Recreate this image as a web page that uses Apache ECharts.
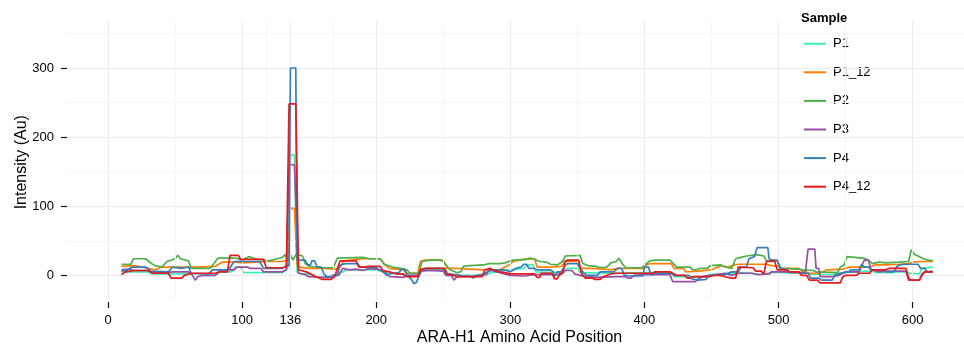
<!DOCTYPE html>
<html>
<head>
<meta charset="utf-8">
<script src="https://cdn.jsdelivr.net/npm/echarts@6/dist/echarts.min.js"></script>
<style>html,body{margin:0;padding:0;background:#fff}#c{width:964px;height:345px}</style>
</head>
<body>
<div id="c"></div>
<script>
const seriesNames = ['P1','P1_12','P2','P3','P4','P4_12'];
const seriesColors = ['#3ff0b0','#ff7f00','#4daf4a','#984ea3','#377eb8','#e41a1c'];
const xTicks = [0,100,136,200,300,400,500,600];
const xMinor = [50,118,168,250,350,450,550];
const yTicks = [0,100,200,300];
const yMinor = [50,150,250,350];

const p1 = [[10,5],[30,5],[33,2],[60,2],[63,0],[80,0],[84,5],[92,5],[95,12],[99,12],[101,4],[130,4],[134,10],[136,174],[139,174],[141,5],[143,3],[148,2],[155,0],[165,-1],[170,1],[175,5],[178,8],[200,8],[205,5],[215,2],[225,0],[232,0],[234,8],[250,8],[252,0],[280,0],[285,3],[292,6],[300,8],[310,10],[312,15],[317,15],[319,5],[340,4],[342,10],[350,10],[352,4],[375,3],[400,4],[420,4],[422,-2],[434,-2],[440,-3],[447,-2],[449,1],[457,2],[470,4],[480,3],[485,1],[493,1],[495,4],[505,4],[510,3],[520,4],[525,1],[540,1],[548,4],[560,5],[565,6],[570,6],[572,4],[585,4],[588,5],[595,5],[598,3],[605,2],[607,10],[615,12]];

const p1_12 = [[10,13],[20,14],[25,12],[30,10],[35,8],[40,12],[58,12],[66,12],[80,13],[85,19],[95,19],[100,18],[110,19],[120,20],[130,20],[134,22],[136,97],[139,97],[141,15],[143,12],[150,10],[160,10],[170,9],[173,12],[176,21],[185,23],[190,24],[203,24],[206,16],[210,10],[220,8],[223,3],[231,3],[233,20],[236,22],[250,22],[253,10],[260,10],[280,8],[292,8],[296,12],[300,16],[302,20],[310,23],[318,24],[320,12],[330,12],[338,13],[341,20],[350,20],[352,10],[360,10],[370,9],[375,8],[380,10],[399,10],[402,16],[405,17],[420,17],[422,10],[429,10],[431,5],[440,6],[450,8],[457,14],[462,12],[467,15],[471,16],[491,16],[495,14],[500,13],[502,10],[515,10],[518,6],[523,3],[530,3],[534,6],[536,8],[548,9],[553,12],[568,12],[572,15],[580,15],[590,16],[597,17],[600,19],[605,20],[615,20]];

const p2 = [[10,16],[17,16],[19,24],[28,24],[31,19],[35,14],[40,12],[44,20],[50,24],[52,29],[54,24],[60,21],[62,10],[76,10],[79,17],[82,25],[95,25],[100,22],[105,27],[110,24],[120,21],[126,24],[130,26],[132,30],[134,22],[136,30],[138,22],[140,30],[143,29],[145,28],[147,17],[150,13],[160,11],[168,11],[171,25],[190,26],[195,24],[203,24],[206,16],[212,12],[218,10],[223,8],[225,3],[232,3],[234,20],[236,21],[241,22],[248,22],[250,20],[255,8],[260,4],[263,5],[265,13],[270,14],[280,15],[284,17],[292,17],[296,18],[302,22],[312,23],[314,25],[317,24],[322,20],[327,19],[330,16],[335,15],[339,20],[341,28],[352,29],[354,17],[358,14],[364,13],[366,11],[372,12],[375,18],[379,20],[381,25],[383,18],[386,11],[398,11],[401,16],[404,21],[408,22],[419,22],[421,18],[424,12],[434,12],[436,8],[439,8],[441,10],[447,10],[449,14],[457,15],[460,12],[465,10],[468,24],[472,26],[476,28],[484,30],[489,28],[491,21],[499,21],[502,10],[515,9],[518,8],[526,7],[528,5],[544,4],[546,12],[549,15],[551,27],[563,25],[567,22],[570,17],[575,19],[580,18],[590,19],[597,20],[599,37],[601,31],[604,28],[608,24],[612,22],[615,21]];

const p3 = [[10,8],[15,9],[20,7],[30,7],[33,4],[45,4],[48,5],[60,5],[63,0],[65,-7],[67,-2],[70,0],[80,0],[84,8],[94,8],[96,12],[104,12],[106,10],[114,10],[116,5],[130,5],[133,8],[135,160],[139,160],[142,3],[147,1],[150,-2],[160,-3],[166,-3],[168,0],[172,0],[175,10],[180,8],[185,9],[190,7],[195,10],[200,9],[205,7],[210,-2],[220,-3],[223,0],[231,0],[233,6],[240,7],[250,6],[252,0],[256,0],[258,-7],[260,-2],[270,-2],[275,0],[282,1],[284,8],[290,5],[300,0],[310,-1],[318,1],[338,1],[340,7],[346,7],[348,2],[352,0],[356,-2],[365,-3],[380,-2],[386,-2],[388,-4],[390,-4],[392,0],[400,1],[419,1],[421,-9],[438,-9],[441,-4],[445,-1],[450,0],[460,3],[465,0],[470,3],[480,3],[485,1],[492,2],[495,5],[505,5],[510,4],[520,4],[522,38],[527,38],[528,10],[530,10],[531,-2],[540,-2],[545,0],[550,5],[560,5],[562,14],[564,22],[567,22],[569,8],[575,5],[580,6],[595,6],[597,-7],[605,-7],[607,2],[609,5],[615,5]];

const p4 = [[10,6],[15,8],[18,12],[28,12],[32,6],[45,5],[48,12],[55,10],[60,12],[62,3],[75,2],[78,8],[90,8],[94,20],[113,20],[116,10],[130,10],[133,14],[135,14],[136,300],[140,300],[141,22],[147,22],[149,15],[151,15],[152,21],[154,21],[156,12],[159,12],[161,2],[163,-2],[166,-2],[168,0],[171,0],[173,15],[177,17],[186,17],[188,12],[200,11],[205,5],[208,0],[212,3],[217,4],[219,9],[221,9],[223,0],[226,-5],[228,-12],[230,-10],[232,0],[234,8],[238,10],[250,10],[252,2],[260,1],[265,-1],[270,-1],[272,-4],[275,-1],[280,2],[283,5],[287,8],[296,8],[300,5],[304,10],[308,12],[310,16],[312,16],[314,10],[318,10],[320,8],[330,8],[332,5],[333,-2],[335,5],[338,5],[341,15],[343,17],[350,17],[352,10],[355,3],[357,0],[365,0],[367,5],[377,5],[380,10],[383,10],[385,0],[390,-1],[399,-1],[400,12],[403,12],[405,0],[407,3],[420,3],[422,0],[433,0],[435,-5],[440,-7],[446,-6],[448,0],[460,1],[465,5],[470,5],[472,12],[476,12],[478,24],[482,27],[484,40],[492,40],[493,24],[495,22],[499,22],[501,10],[506,8],[508,5],[515,5],[517,3],[522,3],[524,-4],[530,-4],[532,-7],[540,-7],[542,0],[546,3],[552,5],[554,8],[560,8],[562,16],[564,12],[567,12],[569,8],[578,8],[580,5],[586,5],[588,12],[590,15],[595,16],[604,16],[606,10],[609,10],[611,5],[615,6]];

const p4_12 = [[10,1],[13,5],[20,7],[30,7],[33,3],[45,3],[47,-4],[55,-4],[57,0],[62,3],[80,3],[83,5],[89,5],[91,29],[97,29],[99,23],[116,23],[118,11],[130,11],[133,12],[135,248],[140,248],[142,8],[148,5],[155,-2],[160,-6],[166,-6],[169,-2],[171,10],[173,21],[185,21],[187,12],[190,12],[195,13],[203,13],[205,7],[210,5],[215,2],[220,2],[222,-2],[231,-2],[233,8],[236,10],[251,10],[253,2],[258,0],[260,-2],[279,-2],[281,8],[285,10],[288,7],[292,5],[296,4],[300,2],[318,2],[320,-3],[322,-3],[323,3],[331,3],[333,-5],[335,-5],[337,3],[339,3],[341,21],[343,22],[351,22],[353,3],[356,-4],[361,-4],[363,-6],[367,-6],[369,-2],[375,2],[378,3],[406,3],[408,5],[419,5],[421,3],[424,0],[430,0],[432,-4],[434,-4],[436,-2],[448,-2],[452,0],[457,0],[460,-2],[465,-4],[468,-4],[470,12],[481,11],[483,6],[487,6],[489,2],[491,20],[497,21],[499,8],[506,8],[508,5],[515,5],[517,0],[521,0],[523,-7],[529,-7],[531,-11],[546,-11],[548,-2],[550,0],[558,0],[560,3],[568,3],[570,8],[580,8],[582,10],[595,10],[597,-4],[599,-7],[605,-7],[607,0],[609,5],[615,5]];

const seriesData = [p1, p1_12, p2, p3, p4, p4_12];

const FONT = '"Liberation Sans", Arial, sans-serif';
const chart = echarts.init(document.getElementById('c'), null, {renderer: 'canvas'});

const gridLines = {
  type: 'line', data: [], silent: true, z: 0, symbol: 'none',
  lineStyle: {opacity: 0},
  markLine: {
    silent: true, symbol: 'none', animation: false,
    label: {show: false},
    data: [
      ...xMinor.map(v => ({xAxis: v, lineStyle: {color: '#f5f5f5', width: 1, type: 'solid'}})),
      ...yMinor.map(v => ({yAxis: v, lineStyle: {color: '#f5f5f5', width: 1, type: 'solid'}})),
      ...xTicks.map(v => ({xAxis: v, lineStyle: {color: '#ebebeb', width: 1, type: 'solid'}})),
      ...yTicks.map(v => ({yAxis: v, lineStyle: {color: '#ebebeb', width: 1, type: 'solid'}}))
    ]
  }
};

chart.setOption({
  animation: false,
  backgroundColor: '#fff',
  grid: {left: 67, right: 0, top: 21, bottom: 45, containLabel: false},
  title: {
    text: 'Sample', left: 796, top: 7,
    textStyle: {fontFamily: FONT, fontSize: 13, fontWeight: 'bold', color: '#000'}
  },
  legend: {
    data: seriesNames, orient: 'vertical', left: 799, top: 31.7,
    icon: 'rect', itemWidth: 22, itemHeight: 2, itemGap: 14.6,
    textStyle: {fontFamily: FONT, fontSize: 13, color: '#000', lineHeight: 14, padding: [0,0,0,2]}
  },
  xAxis: {
    type: 'value', min: -30.6, max: 638.3, offset: 2,
    axisLine: {show: false, onZero: false},
    splitLine: {show: false},
    axisTick: {show: true, length: 6, customValues: xTicks, lineStyle: {color: '#111', width: 1.2}},
    axisLabel: {customValues: xTicks, margin: 12, fontFamily: FONT, fontSize: 13, color: '#000'}
  },
  yAxis: {
    type: 'value', min: -35.7, max: 368,
    axisLine: {show: false, onZero: false},
    splitLine: {show: false},
    axisTick: {show: true, length: 6, customValues: yTicks, lineStyle: {color: '#111', width: 1.2}},
    axisLabel: {customValues: yTicks, margin: 13, fontFamily: FONT, fontSize: 13, color: '#000'}
  },
  graphic: [
    {type: 'text', x: 519.5, y: 338, style: {text: 'ARA-H1 Amino Acid Position', x: 0, y: 0, textAlign: 'center', textVerticalAlign: 'middle', font: '16px ' + FONT, fill: '#000'}},
    {type: 'text', x: 21.3, y: 162.2, rotation: Math.PI / 2, style: {text: 'Intensity (Au)', x: 0, y: 0, textAlign: 'center', textVerticalAlign: 'middle', font: '16px ' + FONT, fill: '#000'}}
  ],
  series: [gridLines].concat(seriesNames.map((name, i) => ({
    name: name, type: 'line', data: seriesData[i], symbol: 'none', z: 2 + i,
    color: seriesColors[i],
    lineStyle: {color: seriesColors[i], width: 1.7},
    itemStyle: {color: seriesColors[i]}
  })))
});
</script>
</body>
</html>
